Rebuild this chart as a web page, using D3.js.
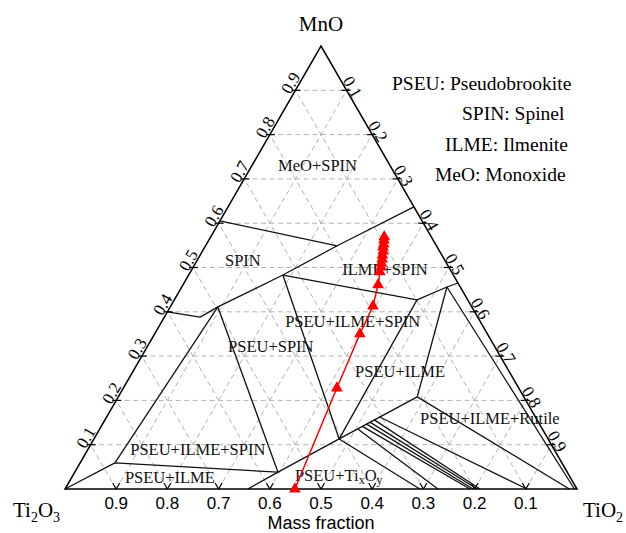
<!DOCTYPE html>
<html>
<head>
<meta charset="utf-8">
<script src="https://cdn.jsdelivr.net/npm/d3@7"></script>
<style>
  body { margin: 0; background: #fff; }
  svg { display: block; }
</style>
</head>
<body>
<svg id="chart" width="626" height="533"></svg>
<script>
// Compositions are [MnO, TiO2] mass fractions; Ti2O3 = 1 - MnO - TiO2.
const tickValues = [0.1, 0.2, 0.3, 0.4, 0.5, 0.6, 0.7, 0.8, 0.9];
const tickLabels = ["0.1", "0.2", "0.3", "0.4", "0.5", "0.6", "0.7", "0.8", "0.9"];

const legendLines = ["PSEU: Pseudobrookite", "SPIN: Spinel", "ILME: Ilmenite", "MeO: Monoxide"];

// Phase boundaries
const boundaries = [
  [[0.40, 0.000], [0.388, 0.070], [0.411, 0.093], [0.483, 0.184], [0.549, 0.257], [0.637, 0.363]],
  [[0.605, 0.000], [0.549, 0.257]],
  [[0.483, 0.184], [0.427, 0.474], [0.456, 0.518], [0.465, 0.535]],
  [[0.456, 0.518], [0.000, 0.995]],
  [[0.456, 0.518], [0.208, 0.584]],
  [[0.208, 0.584], [0.000, 0.985]],
  [[0.483, 0.184], [0.113, 0.479]],
  [[0.427, 0.474], [0.113, 0.479]],
  [[0.208, 0.584], [0.113, 0.479]],
  [[0.113, 0.479], [0.038, 0.397], [0.000, 0.357]],
  [[0.411, 0.093], [0.059, 0.068]],
  [[0.411, 0.093], [0.038, 0.397]],
  [[0.000, 0.000], [0.059, 0.068], [0.038, 0.397]]
];

// Tie lines of the PSEU + TixOy fan
const fanLines = [
  [[0.113, 0.479], [0, 0.693]],
  [[0.135, 0.505], [0, 0.7285]],
  [[0.142, 0.509], [0, 0.791]],
  [[0.147, 0.515], [0, 0.797]],
  [[0.151, 0.520], [0, 0.805]],
  [[0.156, 0.526], [0, 0.8105]],
  [[0.163, 0.532], [0, 0.902]]
];

const regionNames = ["MeO+SPIN", "SPIN", "ILME+SPIN", "PSEU+ILME+SPIN", "PSEU+SPIN", "PSEU+ILME",
  "PSEU+ILME+Rutile", "PSEU+ILME+SPIN", "PSEU+ILME", "PSEU+TixOy"];
const regionAnchors = [[0.718, 0.057], [0.503, 0.061], [0.483, 0.300], [0.366, 0.247], [0.309, 0.164],
  [0.253, 0.440], [0.147, 0.620], [0.077, 0.089], [0.014, 0.110], [0.018, 0.440]];

// Composition path (red triangles)
const pathMnO  = [0, 0.228, 0.350, 0.413, 0.461, 0.490, 0.501, 0.510, 0.519, 0.528, 0.537, 0.546, 0.553, 0.562, 0.569];
const pathTiO2 = [0.449, 0.417, 0.401, 0.395, 0.381, 0.370, 0.367, 0.363, 0.360, 0.356, 0.353, 0.348, 0.346, 0.342, 0.339];

const svg = d3.select("#chart");
const x = d3.scaleLinear().domain([0, 1]).range([65, 577]);
const y = d3.scaleLinear().domain([0, 1]).range([489, 46]);
const proj = ([m, t]) => [x(t + m / 2), y(m)];
const line = d3.line().x(d => proj(d)[0]).y(d => proj(d)[1]);

const serif = "'Liberation Serif', 'Times New Roman', serif";
const sans = "'Liberation Sans', Arial, sans-serif";

// dashed grid in the three composition directions
const grid = svg.append("g").attr("stroke", "#b3b3b3").attr("stroke-width", 1)
  .attr("stroke-dasharray", "5,3.5").attr("fill", "none");
tickValues.forEach(v => {
  grid.append("path").attr("d", line([[v, 0], [v, 1 - v]]));
  grid.append("path").attr("d", line([[0, v], [1 - v, v]]));
  grid.append("path").attr("d", line([[0, 1 - v], [1 - v, 0]]));
});

// phase boundaries
const bnd = svg.append("g").attr("stroke", "#111").attr("stroke-width", 1.3).attr("fill", "none")
  .attr("stroke-linejoin", "round");
boundaries.forEach(b => bnd.append("path").attr("d", line(b)));
fanLines.forEach(b => bnd.append("path").attr("d", line(b)));

// triangle frame
svg.append("path").attr("d", line([[0, 0], [0, 1], [1, 0], [0, 0]]) + "Z")
  .attr("fill", "none").attr("stroke", "#000").attr("stroke-width", 1.5);

// ticks
const ticks = svg.append("g").attr("stroke", "#000").attr("stroke-width", 1.2);
tickValues.forEach(v => {
  const [lx, ly] = proj([v, 0]);
  ticks.append("line").attr("x1", lx - 4).attr("x2", lx + 5).attr("y1", ly).attr("y2", ly);
  const [rx, ry] = proj([1 - v, v]);
  ticks.append("line").attr("x1", rx - 5).attr("x2", rx + 4).attr("y1", ry).attr("y2", ry);
  const [bx, by] = proj([0, 1 - v]);
  ticks.append("line").attr("x1", bx).attr("y1", by).attr("x2", bx - 3.5).attr("y2", by - 6);
  ticks.append("line").attr("x1", bx).attr("y1", by).attr("x2", bx + 3.5).attr("y2", by - 6);
});

// tick labels
tickValues.forEach((v, i) => {
  const [lx, ly] = proj([v, 0]);
  svg.append("text").attr("transform", `translate(${lx},${ly}) rotate(-60)`)
    .attr("x", 4).attr("y", -2).attr("text-anchor", "middle")
    .attr("font-family", serif).attr("font-size", 17).text(tickLabels[i]);
  const [rx, ry] = proj([1 - v, v]);
  svg.append("text").attr("transform", `translate(${rx},${ry}) rotate(60)`)
    .attr("x", 0).attr("y", -1).attr("text-anchor", "middle")
    .attr("font-family", serif).attr("font-size", 17).text(tickLabels[i]);
  const [bx, by] = proj([0, 1 - v]);
  svg.append("text").attr("x", bx).attr("y", by + 19.5).attr("text-anchor", "middle")
    .attr("font-family", sans).attr("font-size", 17).text(tickLabels[i]);
});

// region labels
regionNames.forEach((name, i) => {
  const [px, py] = proj(regionAnchors[i]);
  const t = svg.append("text").attr("x", px).attr("y", py)
    .attr("font-family", serif).attr("font-size", 16.5).attr("fill", "#111");
  if (name === "PSEU+TixOy") {
    t.append("tspan").text("PSEU+Ti");
    t.append("tspan").attr("font-size", 12).attr("dy", 3).text("x");
    t.append("tspan").attr("dy", -3).text("O");
    t.append("tspan").attr("font-size", 12).attr("dy", 3).text("y");
  } else {
    t.text(name);
  }
});

// composition path
const pathPts = pathMnO.map((m, i) => [m, pathTiO2[i]]);
svg.append("path").attr("d", line(pathPts)).attr("fill", "none")
  .attr("stroke", "#ff0000").attr("stroke-width", 1.5);
svg.append("g").selectAll("path").data(pathPts).join("path")
  .attr("transform", d => `translate(${proj(d)[0]},${proj(d)[1]})`)
  .attr("d", d3.symbol(d3.symbolTriangle, 60)())
  .attr("fill", "#ff0000");

// corner labels
svg.append("text").attr("x", x(0.5)).attr("y", 31).attr("text-anchor", "middle")
  .attr("font-family", serif).attr("font-size", 21).text("MnO");
const tl = svg.append("text").attr("x", 13).attr("y", 517).attr("font-family", serif).attr("font-size", 21);
tl.append("tspan").text("Ti");
tl.append("tspan").attr("font-size", 14).attr("dy", 5).text("2");
tl.append("tspan").attr("dy", -5).text("O");
tl.append("tspan").attr("font-size", 14).attr("dy", 5).text("3");
const tr = svg.append("text").attr("x", 583).attr("y", 517).attr("font-family", serif).attr("font-size", 21);
tr.append("tspan").text("TiO");
tr.append("tspan").attr("font-size", 14).attr("dy", 5).text("2");

svg.append("text").attr("x", x(0.5)).attr("y", 529).attr("text-anchor", "middle")
  .attr("font-family", sans).attr("font-size", 18).text("Mass fraction");

// legend
const legendX = [392, 462, 445, 435];
const legendY = [90, 120, 151, 181];
legendLines.forEach((s, i) => {
  svg.append("text").attr("x", legendX[i]).attr("y", legendY[i])
    .attr("font-family", serif).attr("font-size", 19.5).text(s);
});
</script>
</body>
</html>
